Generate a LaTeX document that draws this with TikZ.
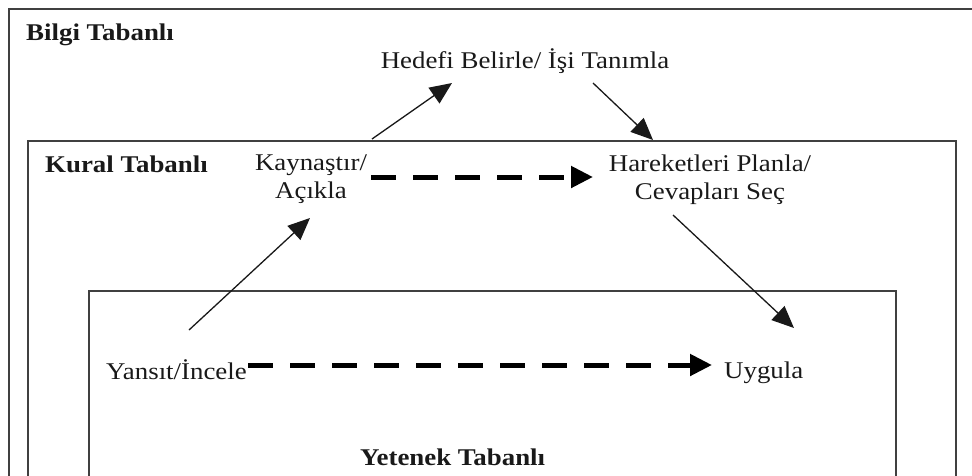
\documentclass[tikz,border=0pt]{standalone}
\usepackage{fontspec}
\usepackage{graphicx}
\setmainfont{Liberation Serif}
\usetikzlibrary{arrows.meta}

% wide text: the labels are set slightly stretched horizontally
\newcommand{\wide}[1]{\scalebox{1.12}[1]{#1}}
\newcommand{\twolines}[2]{\wide{\begin{tabular}[t]{@{}c@{}}#1\\#2\end{tabular}}}

\tikzset{
  frame/.style={draw=black!75, line width=1.4pt},
  lbl/.style={inner sep=0pt, font=\fontsize{24}{28}\selectfont, text=black!90},
  head/.style={lbl, font=\fontsize{24}{28}\selectfont\bfseries, anchor=base west},
  arr/.style={draw=black!90, line width=1.3pt, -{Triangle[length=22pt,width=19pt]}},
  darr/.style={draw=black, line width=5pt, dash pattern=on 25pt off 17pt,
               -{Triangle[length=22pt,width=21pt]}}
}

\begin{document}
\begin{tikzpicture}[x=1pt, y=-1pt]
\useasboundingbox (0,0) rectangle (972,475);
\clip (0,0) rectangle (972,475);

% nested regions, open at the bottom
\draw[frame] (9,500) -- (9,9) -- (990,9);
\draw[frame] (28,500) -- (28,141) -- (956,141) -- (956,500);
\draw[frame] (89,500) -- (89,291) -- (896,291) -- (896,500);

% region titles
\node[head] (bilgi) at (26,40) {\wide{Bilgi Tabanlı}};
\node[head] (kural) at (45,172) {\wide{Kural Tabanlı}};
\node[head] (yetenek) at (360,465) {\wide{Yetenek Tabanlı}};

% steps of the cycle
\node[lbl, anchor=base] (hedef) at (525,68) {\wide{Hedefi Belirle/ İşi Tanımla}};
\node[lbl, anchor=base] (kayn) at (311,170) {\twolines{Kaynaştır/}{Açıkla}};
\node[lbl, anchor=base] (hare) at (710,171) {\twolines{Hareketleri Planla/}{Cevapları Seç}};
\node[lbl, anchor=base west] (yans) at (106,379) {\wide{Yansıt/İncele}};
\node[lbl, anchor=base west] (uyg) at (724,378) {\wide{Uygula}};

% connector end points around the labels
\coordinate (kaynOut) at ([shift={(61,-31)}]kayn.base);
\coordinate (hedefIn) at ([shift={(-73,15)}]hedef.base);
\coordinate (hedefOut) at ([shift={(68,15)}]hedef.base);
\coordinate (hareIn) at ([shift={(-57,-31)}]hare.base);
\coordinate (yansOut) at ([shift={(83,-49)}]yans.base west);
\coordinate (kaynIn) at ([shift={(-1,48)}]kayn.base);
\coordinate (hareOut) at ([shift={(-37,44)}]hare.base);
\coordinate (uygIn) at ([shift={(70,-50)}]uyg.base west);
\coordinate (kaynDash) at ([shift={(60,7)}]kayn.base);
\coordinate (hareDash) at ([shift={(-117,6)}]hare.base);
\coordinate (yansDash) at ([shift={(1,-14)}]yans.base east);
\coordinate (uygDash) at ([shift={(-12,-13)}]uyg.base west);

% solid transitions
\draw[arr] (kaynOut) -- (hedefIn);
\draw[arr] (hedefOut) -- (hareIn);
\draw[arr] (yansOut) -- (kaynIn);
\draw[arr] (hareOut) -- (uygIn);

% dashed transitions
\draw[darr] (kaynDash) -- (hareDash);
\draw[darr] (yansDash) -- (uygDash);
\end{tikzpicture}
\end{document}
